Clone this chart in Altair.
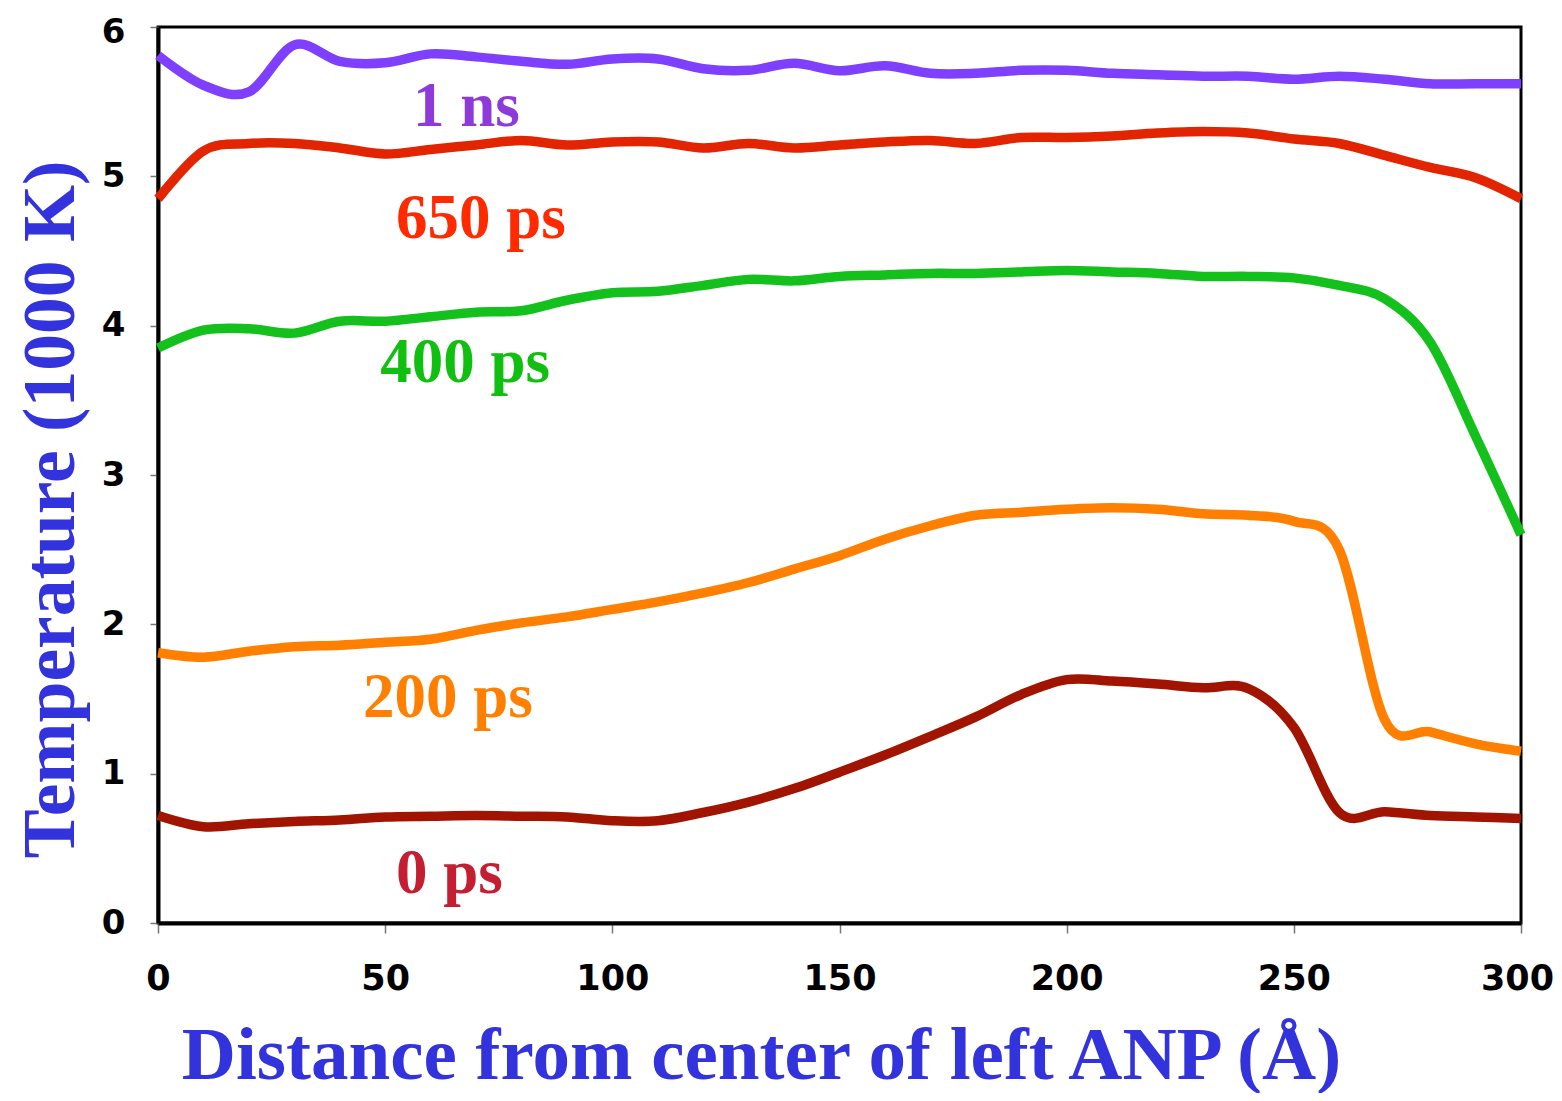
import altair as alt
import pandas as pd

# distance from centre of left ANP (Å)
distance = [0, 10, 20, 30, 40, 50, 60, 70, 80, 90, 100, 110, 120, 130, 140, 150,
            160, 170, 180, 190, 200, 210, 220, 230, 240, 250, 260, 270, 280, 290, 300]

# temperature (1000 K) for each time
t_1ns = [5.81, 5.61, 5.565, 5.88, 5.77, 5.76, 5.82, 5.80, 5.77, 5.75, 5.786, 5.786, 5.72, 5.71, 5.757, 5.707,
         5.74, 5.69, 5.69, 5.71, 5.71, 5.69, 5.68, 5.67, 5.67, 5.65, 5.67, 5.65, 5.62, 5.62, 5.62]
t_650ps = [4.85, 5.17, 5.22, 5.22, 5.19, 5.15, 5.18, 5.21, 5.24, 5.21, 5.23, 5.23, 5.19, 5.22, 5.19, 5.21,
           5.23, 5.24, 5.22, 5.26, 5.26, 5.27, 5.29, 5.30, 5.29, 5.25, 5.22, 5.14, 5.06, 4.99, 4.85]
t_400ps = [3.85, 3.97, 3.98, 3.95, 4.03, 4.03, 4.06, 4.09, 4.10, 4.17, 4.22, 4.23, 4.27, 4.31, 4.30, 4.33,
           4.34, 4.35, 4.35, 4.36, 4.37, 4.36, 4.35, 4.33, 4.33, 4.32, 4.27, 4.18, 3.89, 3.26, 2.60]
t_200ps = [1.81, 1.78, 1.82, 1.85, 1.86, 1.88, 1.90, 1.96, 2.01, 2.05, 2.10, 2.15, 2.21, 2.28, 2.37, 2.46,
           2.57, 2.66, 2.73, 2.75, 2.77, 2.78, 2.77, 2.74, 2.73, 2.69, 2.50, 1.36, 1.28, 1.20, 1.15]
t_0ps = [0.72, 0.645, 0.665, 0.68, 0.69, 0.71, 0.715, 0.72, 0.715, 0.71, 0.685, 0.685, 0.74, 0.81, 0.90, 1.01,
         1.125, 1.25, 1.38, 1.53, 1.63, 1.62, 1.60, 1.575, 1.57, 1.31, 0.74, 0.745, 0.72, 0.71, 0.70]

series_names = ["1 ns", "650 ps", "400 ps", "200 ps", "0 ps"]
series_values = [t_1ns, t_650ps, t_400ps, t_200ps, t_0ps]
line_colors = ["#7f3fff", "#e32400", "#14c01c", "#ff7f00", "#a01400"]
label_colors = ["#8e3ad9", "#ff2a00", "#10bf10", "#ff8000", "#c41e32"]
# label anchor (left/baseline) in data units
label_x = [56.1, 52.4, 48.9, 45.1, 52.4]
label_y = [5.337, 4.587, 3.623, 1.379, 0.201]

x_ticks = [0, 50, 100, 150, 200, 250, 300]
y_ticks = [0, 1, 2, 3, 4, 5, 6]

rows = []
for name, vals, col in zip(series_names, series_values, line_colors):
    for d, v in zip(distance, vals):
        rows.append({"series": name, "distance": d, "temp": v, "color": col})
df = pd.DataFrame(rows)

lab_df = pd.DataFrame({"label": series_names, "lx": label_x, "ly": label_y, "color": label_colors})

TITLE_FONT = "Liberation Serif"
TITLE_COLOR = "#3333dd"

x_scale = alt.Scale(domain=[0, 300], nice=False, zero=False)
y_scale = alt.Scale(domain=[0, 6], nice=False)

x_axis = alt.Axis(
    values=x_ticks, grid=False, title="Distance from center of left ANP (Å)", format="d",
    labelFont="DejaVu Sans", labelFontWeight="bold", labelFontSize=35, labelColor="black",
    labelPadding=28, labelFlush=False,
    labelOffset={"condition": {"test": "datum.value == 300", "value": -4}, "value": 0},
    tickSize=10, tickColor="#777777", tickWidth=1.5,
    domainColor="black", domainWidth=4,
    titleFont=TITLE_FONT, titleFontWeight="bold", titleFontSize=75, titleColor=TITLE_COLOR,
    titleX=603, titleY=155, titleAlign="center", titleBaseline="alphabetic", titleAngle=0,
)
y_axis = alt.Axis(
    values=y_ticks, grid=False, title="Temperature (1000 K)", format="d",
    labelFont="DejaVu Sans", labelFontWeight="bold", labelFontSize=34, labelColor="black",
    labelPadding=25, labelFlush=False,
    labelOffset={"condition": {"test": "datum.value == 6", "value": 5}, "value": 0},
    tickSize=8, tickColor="#777777", tickWidth=1.5,
    domainColor="black", domainWidth=4,
    titleFont=TITLE_FONT, titleFontWeight="bold", titleFontSize=73.5, titleColor=TITLE_COLOR,
    titleX=-85, titleY=482, titleAlign="center", titleBaseline="alphabetic", titleAngle=270,
)

lines = alt.Chart(df).mark_line(interpolate="cardinal", strokeWidth=9.5, strokeCap="butt").encode(
    x=alt.X("distance:Q", scale=x_scale, axis=x_axis),
    y=alt.Y("temp:Q", scale=y_scale, axis=y_axis),
    color=alt.Color("color:N", scale=None),
    detail="series:N",
)

labels = alt.Chart(lab_df).mark_text(
    font=TITLE_FONT, fontWeight="bold", fontSize=63, align="left", baseline="alphabetic"
).encode(
    x=alt.X("lx:Q", scale=x_scale),
    y=alt.Y("ly:Q", scale=y_scale),
    text="label:N",
    color=alt.Color("color:N", scale=None),
)

chart = alt.layer(lines, labels).properties(
    width=1363, height=896,
    background="white",
    autosize=alt.AutoSizeParams(type="none"),
    padding={"left": 150, "top": 19, "right": 33, "bottom": 170},
).configure_view(stroke="black", strokeWidth=3, strokeOpacity=1)

chart.save("out.html", embed_options={"renderer": "svg", "actions": False})
